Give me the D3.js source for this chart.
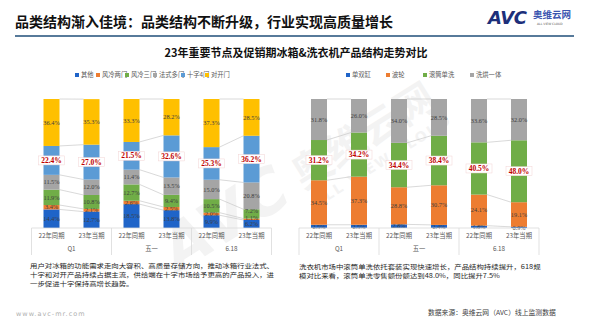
<!DOCTYPE html>
<html>
<head>
<meta charset="utf-8">
<script src="https://cdn.jsdelivr.net/npm/d3@7"></script>
<style>
  html, body { margin: 0; padding: 0; background: #fff; }
  svg { display: block; }
</style>
</head>
<body>
<svg id="chart" width="590" height="332"></svg>
<script>
// ---- data ----
const groups = ["Q1", "五一", "6.18"];
const periods = ["22年同期", "23年当期"];

const fridgeSeries = ["其他", "风冷两门", "风冷三门", "法式多门", "十字4门", "对开门"];
const fridgeColors = ["#1f64c8", "#ed7d31", "#70ad47", "#a5a5a5", "#5b9bd5", "#ffc000"];
const fridgeOther   = [14.4, 12.7, 18.5, 13.8, 9.9, 6.2];
const fridgeTwoDoor = [3.4, 2.1, 2.6, 2.5, 2.0, 1.1];
const fridgeThree   = [11.9, 10.8, 12.7, 9.4, 10.5, 7.2];
const fridgeFrench  = [11.5, 12.0, 11.4, 13.5, 15.0, 20.8];
const fridgeCross   = [22.4, 27.0, 21.5, 32.6, 25.3, 36.2];
const fridgeSide    = [36.4, 35.3, 33.3, 28.2, 37.3, 28.5];

const washerSeries = ["单双缸", "波轮", "滚筒单洗", "洗烘一体"];
const washerColors = ["#1f64c8", "#ed7d31", "#70ad47", "#a5a5a5"];
const washerTwin   = [2.5, 2.5, 2.8, 2.4, 1.8, 0.9];
const washerPulsa  = [34.5, 37.3, 28.8, 30.7, 24.1, 19.1];
const washerDrum   = [31.2, 34.2, 34.4, 38.4, 40.5, 48.0];
const washerCombo  = [31.8, 26.0, 34.0, 28.5, 33.6, 32.0];

const fridgeText = [
  "用户对冰箱的功能需求走向大容积、高质量存储方向，推动冰箱行业法式、",
  "十字和对开产品持续占据主流，供给端在十字市场给予更高的产品投入，进",
  "一步促进十字保持高增长趋势。"
];
const washerText = [
  "洗衣机市场中滚筒单洗依托套装实现快速增长，产品结构持续提升，618规",
  "模对比来看，滚筒单洗零售额份额达到48.0%，同比提升7.5%"
];

const svg = d3.select("#chart");
const sans = "'Noto Sans CJK SC', 'Noto Sans', sans-serif";
const serif = "'Liberation Serif', 'DejaVu Serif', serif";

// ---- faint diagonal brand watermark ----
const wm = svg.append("g")
  .attr("transform", "translate(300,185) rotate(-32)")
  .attr("opacity", 0.09)
  .attr("fill", "#7f7f7f");
wm.append("text").attr("x", -150).attr("y", 10)
  .attr("font-family", "'DejaVu Sans', sans-serif").attr("font-weight", "bold")
  .attr("font-style", "italic").attr("font-size", 62).text("AVC");
wm.append("text").attr("x", 0).attr("y", 6)
  .attr("font-family", sans).attr("font-weight", "bold")
  .attr("font-size", 40).text("奥维云网");
wm.append("text").attr("x", 2).attr("y", 28)
  .attr("font-family", "'DejaVu Sans', sans-serif").attr("font-weight", "bold")
  .attr("font-size", 14).attr("letter-spacing", 2).text("ALL VIEW CLOUD");

// ---- header ----
svg.append("text").attr("x", 15).attr("y", 27)
  .attr("font-family", sans).attr("font-weight", 700).attr("font-size", 14)
  .attr("fill", "#111").text("品类结构渐入佳境：品类结构不断升级，行业实现高质量增长");
svg.append("line").attr("x1", 15).attr("x2", 574).attr("y1", 36).attr("y2", 36)
  .attr("stroke", "#1f4e79").attr("stroke-width", 1.5);

// logo
svg.append("text").attr("x", 488).attr("y", 24)
  .attr("font-family", "'DejaVu Sans', sans-serif").attr("font-weight", "bold")
  .attr("font-style", "italic").attr("font-size", 18).attr("fill", "#1d2f7a")
  .attr("letter-spacing", -0.5).text("AVC");
svg.append("text").attr("x", 533).attr("y", 18)
  .attr("font-family", sans).attr("font-weight", 700).attr("font-size", 9.5)
  .attr("fill", "#3b55b0").text("奥维云网");
svg.append("text").attr("x", 537).attr("y", 25)
  .attr("font-family", "'DejaVu Sans', sans-serif").attr("font-size", 3)
  .attr("fill", "#555").text("ALL VIEW CLOUD");

svg.append("text").attr("x", 296).attr("y", 57).attr("text-anchor", "middle")
  .attr("font-family", sans).attr("font-weight", 700).attr("font-size", 11)
  .attr("fill", "#111").text("23年重要节点及促销期冰箱&洗衣机产品结构走势对比");

// ---- stacked chart builder ----
function drawChart(opts) {
  const { x0, x1, series, colors, values, highlight, legendX } = opts;
  const g = svg.append("g");
  const yTop = 99, yBot = 228;
  const n = values[0].length;
  const barIds = d3.range(n);

  const x = d3.scaleBand().domain(barIds).range([x0, x1]).paddingInner(0.6).paddingOuter(0.3);
  const y = d3.scaleLinear().domain([0, 100]).range([yBot, yTop]);

  const stackRows = barIds.map(i => {
    const row = { id: i };
    series.forEach((s, k) => row[s] = values[k][i]);
    return row;
  });
  const stacked = d3.stack().keys(series)(stackRows);

  // series lines between the two bars of each group
  const lineG = g.append("g").attr("stroke", "#c8c8c8").attr("stroke-width", 0.7);
  for (let gi = 0; gi < groups.length; gi++) {
    const a = gi * 2, b = gi * 2 + 1;
    stacked.forEach(layer => {
      lineG.append("line")
        .attr("x1", x(a) + x.bandwidth()).attr("y1", y(layer[a][1]))
        .attr("x2", x(b)).attr("y2", y(layer[b][1]));
    });
  }

  // bars
  stacked.forEach((layer, k) => {
    g.append("g").attr("fill", colors[k])
      .selectAll("rect").data(layer).join("rect")
      .attr("x", (d, i) => x(i))
      .attr("width", x.bandwidth())
      .attr("y", d => y(d[1]))
      .attr("height", d => y(d[0]) - y(d[1]));
  });

  // value labels; thin stacked segments are spread apart so labels stay legible
  barIds.forEach(i => {
    let prevY = Infinity;
    stacked.forEach((layer, k) => {
      const d = layer[i];
      const cx = x(i) + x.bandwidth() / 2;
      let cy = (y(d[0]) + y(d[1])) / 2;
      const label = d3.format(".1f")(d[1] - d[0]) + "%";
      if (k === highlight) {
        g.append("rect").attr("x", cx - 13).attr("y", cy - 4.5).attr("width", 26).attr("height", 9)
          .attr("fill", "#fff").attr("stroke", "#f2d3d3").attr("stroke-width", 0.5);
        g.append("text").attr("x", cx).attr("y", cy).attr("dy", "0.35em")
          .attr("text-anchor", "middle").attr("font-family", serif).attr("font-weight", "bold")
          .attr("font-size", 7.5).attr("fill", "#c00000").text(label);
        prevY = Infinity;
      } else {
        cy = Math.min(cy, prevY - 6.5);
        prevY = cy;
        g.append("text").attr("x", cx).attr("y", cy).attr("dy", "0.35em")
          .attr("text-anchor", "middle").attr("font-family", serif)
          .attr("font-size", 6.3).attr("fill", "#404040").text(label);
      }
    });
  });

  // category axis: baseline, period labels, group labels and separators
  const step = x.step();
  const gx0 = x(0) - (step - x.bandwidth()) / 2;
  const axisG = g.append("g");
  axisG.append("line").attr("x1", gx0).attr("x2", gx0 + step * n)
    .attr("y1", yBot).attr("y2", yBot).attr("stroke", "#d9d9d9").attr("stroke-width", 0.8);
  for (let gi = 0; gi <= groups.length; gi++) {
    const sx = gx0 + step * 2 * gi;
    axisG.append("line").attr("x1", sx).attr("x2", sx).attr("y1", yBot).attr("y2", 255)
      .attr("stroke", "#d9d9d9").attr("stroke-width", 0.8);
  }
  barIds.forEach(i => {
    axisG.append("text").attr("x", x(i) + x.bandwidth() / 2).attr("y", 236).attr("dy", "0.35em")
      .attr("text-anchor", "middle").attr("font-family", sans).attr("font-size", 6.3)
      .attr("fill", "#595959").text(periods[i % 2]);
  });
  groups.forEach((gname, gi) => {
    axisG.append("text").attr("x", gx0 + step * (2 * gi + 1)).attr("y", 249).attr("dy", "0.35em")
      .attr("text-anchor", "middle").attr("font-family", sans).attr("font-size", 6.3)
      .attr("fill", "#595959").text(gname);
  });

  // legend
  const lg = g.append("g").attr("transform", `translate(${legendX[0]},75)`);
  series.forEach((s, k) => {
    const item = lg.append("g").attr("transform", `translate(${legendX[k + 1] - legendX[0]},0)`);
    item.append("rect").attr("x", 0).attr("y", -2).attr("width", 4).attr("height", 4).attr("fill", colors[k]);
    item.append("text").attr("x", 6).attr("y", 0).attr("dy", "0.35em")
      .attr("font-family", sans).attr("font-size", 6.3).attr("fill", "#595959").text(s);
  });
}

drawChart({
  x0: 31.5, x1: 271.5,
  series: fridgeSeries, colors: fridgeColors,
  values: [fridgeOther, fridgeTwoDoor, fridgeThree, fridgeFrench, fridgeCross, fridgeSide],
  highlight: 4,
  legendX: [75, 75, 96, 125, 153, 181, 205]
});

drawChart({
  x0: 299, x1: 539,
  series: washerSeries, colors: washerColors,
  values: [washerTwin, washerPulsa, washerDrum, washerCombo],
  highlight: 2,
  legendX: [346, 346, 386, 423, 470]
});

// ---- commentary text: tightly set lines, slightly condensed vertically ----
function paragraph(lines, px, py) {
  lines.forEach((line, i) => {
    svg.append("text")
      .attr("transform", `translate(${px},${py + i * 9.1}) scale(1,0.84)`)
      .attr("font-family", sans).attr("font-size", 7.4).attr("fill", "#262626")
      .text(line);
  });
}
paragraph(fridgeText, 30, 268);
paragraph(washerText, 299, 269);

svg.append("text").attr("x", 16).attr("y", 316)
  .attr("font-family", "'DejaVu Sans', sans-serif").attr("font-size", 6.5)
  .attr("letter-spacing", 1).attr("fill", "#b0b0b0").text("www.avc-mr.com");
svg.append("text").attr("x", 428).attr("y", 315)
  .attr("font-family", sans).attr("font-size", 6.8).attr("fill", "#404040")
  .text("数据来源：奥维云网（AVC）线上监测数据");
</script>
</body>
</html>
